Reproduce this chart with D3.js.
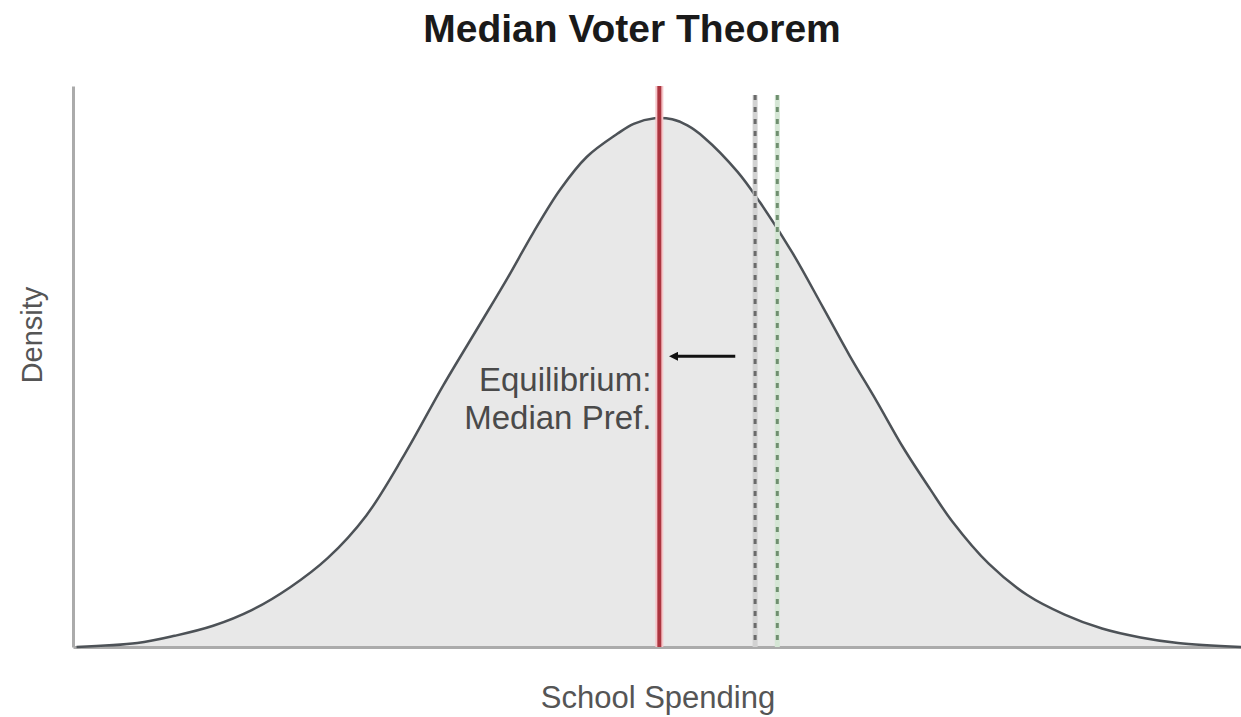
<!DOCTYPE html>
<html>
<head>
<meta charset="utf-8">
<script src="https://cdn.jsdelivr.net/npm/d3@7"></script>
<style>
body { margin:0; background:#fff; }
text { font-family: "Liberation Sans", Arial, sans-serif; }
</style>
</head>
<body>
<div class="chart-container"></div>
<script>
// density curve (spending on 0-100, density on 0-1)
var spending = [0.3, 5.5, 8.7, 12.0, 15.3, 18.6, 21.8, 25.1, 28.4, 31.7, 34.8, 37.2, 39.4, 41.7, 44.0, 46.6, 48.0, 49.8,
                51.3, 52.6, 54.0, 56.9, 58.8, 61.6, 64.2, 66.5, 68.8, 71.1, 73.4, 75.3, 78.4, 81.7, 84.9, 88.1, 91.4, 94.6, 100];
var density = [0, 0.007, 0.020, 0.038, 0.066, 0.107, 0.159, 0.235, 0.345, 0.468, 0.576, 0.660, 0.741, 0.818, 0.877, 0.918, 0.936, 0.946,
               0.944, 0.933, 0.912, 0.850, 0.796, 0.705, 0.608, 0.521, 0.440, 0.356, 0.282, 0.224, 0.149, 0.093, 0.058, 0.033, 0.017, 0.007, 0];

var medianPref = 50.2;
var proposals = [58.4, 60.3];
var proposalColors = ['#6a6a6a', '#6f8f6f'];
var proposalHalo = ['#d2d2d2', '#d5e6d5'];
var arrowFrom = 56.7, arrowTo = 51.3, arrowLevel = 0.52;
var labelLines = ['Equilibrium:', 'Median Pref.'];

var width = 1241, height = 717;
var margin = {top:86, right:0, bottom:70, left:73};

var svg = d3.select('.chart-container').append('svg')
	.attr('width', width)
	.attr('height', height);

var x = d3.scaleLinear().domain([0, 100]).range([margin.left, width - margin.right]),
	y = d3.scaleLinear().domain([0, 1]).range([height - margin.bottom, margin.top + 2]);

var curve = spending.map(function(d, i) { return {s: d, v: density[i]}; });

var area = d3.area()
	.x(function(d) { return x(d.s); })
	.y0(y(0))
	.y1(function(d) { return y(d.v); })
	.curve(d3.curveCatmullRom.alpha(0.5));

var line = d3.line()
	.x(function(d) { return x(d.s); })
	.y(function(d) { return y(d.v); })
	.curve(d3.curveCatmullRom.alpha(0.5));

svg.append('path')
	.datum(curve)
	.attr('d', area)
	.style('fill', '#e8e8e8');

/// axes, no ticks
svg.append('g')
	.attr('class', 'axis axis--y')
	.attr('transform', 'translate(' + margin.left + ',0)')
	.call(d3.axisLeft(y.copy().range([height - margin.bottom, margin.top])).ticks(0).tickSizeOuter(0));

svg.append('g')
	.attr('class', 'axis axis--x')
	.attr('transform', 'translate(0,' + (height - margin.bottom) + ')')
	.call(d3.axisBottom(x).ticks(0).tickSizeOuter(0));

svg.selectAll('.axis .domain')
	.style('stroke', '#ababab')
	.style('stroke-width', 3);

svg.append('path')
	.datum(curve)
	.attr('d', line)
	.style('fill', 'none')
	.style('stroke', '#4d5257')
	.style('stroke-width', 2.5);

/// proposal lines
proposals.forEach(function(p, i) {
	svg.append('line')
		.attr('x1', x(p)).attr('x2', x(p))
		.attr('y1', margin.top + 9).attr('y2', y(0))
		.style('stroke', proposalHalo[i])
		.style('stroke-width', 5);
	svg.append('line')
		.attr('x1', x(p)).attr('x2', x(p))
		.attr('y1', margin.top + 9).attr('y2', y(0))
		.attr('stroke-dasharray', '5,7')
		.style('stroke', proposalColors[i])
		.style('stroke-width', 3);
});

/// median line
svg.append('line')
	.attr('x1', x(medianPref)).attr('x2', x(medianPref))
	.attr('y1', margin.top).attr('y2', y(0))
	.style('stroke', '#f6c4c8')
	.style('stroke-width', 8);
svg.append('line')
	.attr('x1', x(medianPref)).attr('x2', x(medianPref))
	.attr('y1', margin.top).attr('y2', y(0))
	.style('stroke', '#ac3540')
	.style('stroke-width', 4);

/// arrow
svg.append('defs').append('marker')
	.attr('id', 'head')
	.attr('viewBox', '0 0 10 10')
	.attr('refX', 2).attr('refY', 5)
	.attr('markerWidth', 3).attr('markerHeight', 3)
	.attr('orient', 'auto')
	.append('path')
	.attr('d', 'M0,0L10,5L0,10Z')
	.style('fill', '#111');

svg.append('line')
	.attr('x1', x(arrowFrom)).attr('x2', x(arrowTo) + 4)
	.attr('y1', y(arrowLevel)).attr('y2', y(arrowLevel))
	.attr('marker-end', 'url(#head)')
	.style('stroke', '#111')
	.style('stroke-width', 3);

/// labels
svg.append('text')
	.selectAll('tspan')
	.data(labelLines)
	.enter().append('tspan')
	.attr('x', x(medianPref) - 8)
	.attr('y', function(d, i) { return 391 + i * 38; })
	.style('text-anchor', 'end')
	.style('font-size', '33px')
	.style('fill', '#4a4a4a')
	.text(function(d) { return d; });

svg.append('text')
	.attr('x', 632)
	.attr('y', 42)
	.style('text-anchor', 'middle')
	.style('font-size', '39px')
	.style('font-weight', 'bold')
	.style('fill', '#1a1a1a')
	.text('Median Voter Theorem');

svg.append('text')
	.attr('transform', 'translate(42,' + 335 + ') rotate(-90)')
	.style('text-anchor', 'middle')
	.style('font-size', '29px')
	.style('fill', '#555')
	.text('Density');

svg.append('text')
	.attr('x', 658)
	.attr('y', 708)
	.style('text-anchor', 'middle')
	.style('font-size', '31px')
	.style('fill', '#555')
	.text('School Spending');
</script>
</body>
</html>
